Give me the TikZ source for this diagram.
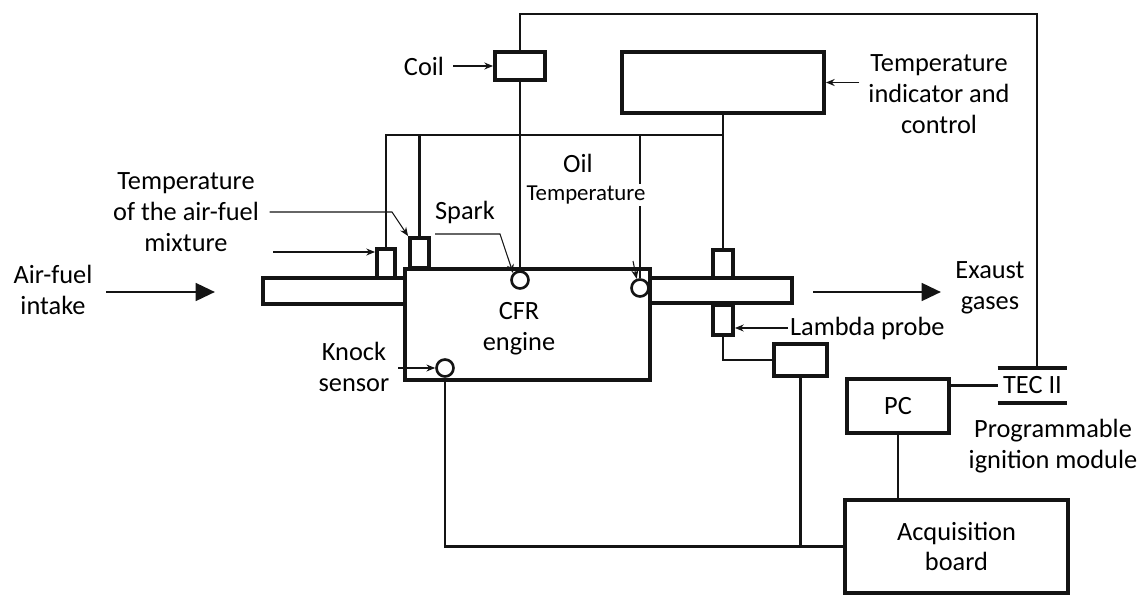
\documentclass[tikz,border=0pt]{standalone}
\usepackage{fontspec}
\setmainfont{Carlito}
\usetikzlibrary{arrows.meta}
\definecolor{rigblack}{RGB}{20,20,20}

\begin{document}
\begin{tikzpicture}[x=0.02cm, y=-0.02cm, rigblack,
    every node/.style={font=\fontsize{15}{17.6}\selectfont, text=black},
    unit/.style={draw, line width=2.2pt, inner sep=0pt, fill=white},
    probe/.style={circle, draw, line width=1.5pt, inner sep=0pt,
                  minimum size=0.34cm, fill=white},
    wire/.style={line width=1.2pt},
    pointer/.style={line width=0.6pt, -{Stealth[length=5pt,width=4pt]}},
    flow/.style={line width=1.7pt, -{Triangle[length=11pt,width=10pt]}},
    lbl/.style={align=center, inner sep=1pt}]
\useasboundingbox (0,0) rectangle (1143,595);
% Engine with intake and exhaust pipes
\node[unit, minimum width=2.84cm, minimum height=0.52cm] (intake) at (334,291) {};
\node[unit, minimum width=2.84cm, minimum height=0.5cm] (exhaust) at (721,290.5) {};
\node[unit, minimum width=0.36cm, minimum height=0.58cm] (sens1) at (386,263.5) {};
\node[unit, minimum width=0.38cm, minimum height=0.6cm] (sens2) at (419.5,253) {};
\node[unit, minimum width=0.4cm, minimum height=0.56cm] (lam1) at (723,264) {};
\node[unit, minimum width=0.4cm, minimum height=0.6cm] (lam2) at (723,320) {};
\node[unit, minimum width=4.9cm, minimum height=2.22cm] (engine) at (527.5,324.5) {};
\node[lbl] (cfr) at (519,329) {CFR\\engine};
\node[probe] (spark) at (520,280) {};
\node[probe] (oil) at (640,288) {};
\node[probe] (knock) at (445,368) {};
% Other units
\node[unit, minimum width=1.0cm, minimum height=0.56cm] (coil) at (520,66) {};
\node[unit, minimum width=4.04cm, minimum height=1.22cm] (tic) at (723,82.5) {};
\node[unit, minimum width=1.06cm, minimum height=0.64cm] (lamunit) at (800.5,360) {};
\node[unit, minimum width=2.04cm, minimum height=1.08cm] (pc) at (898,406) {PC};
\node[unit, minimum width=4.46cm, minimum height=1.86cm, align=center] (acq) at (956.5,546.5) {Acquisition\\board};
\node[minimum width=1.38cm, minimum height=0.7cm, inner sep=0pt] (tec) at (1032.5,385.5) {TEC II};
\draw[line width=2.2pt] (tec.north west) -- (tec.north east);
\draw[line width=2.2pt] (tec.south west) -- (tec.south east);
% Wiring
\coordinate (corner) at (1037,14);
\coordinate (bus) at (387,135);
\draw[wire] (coil.north) |- (corner) -- (corner |- tec.north);
\draw[wire] (coil.south) -- (spark.north);
\draw[wire] (tic.south) -- (lam1.north);
\draw[wire] (sens1.north) |- (tic.south |- bus);
\draw[wire] (sens2.north) -- (sens2.north |- bus);
\draw[wire] (oil.north) -- (oil.north |- bus);
\draw[wire] (lam2.south) |- (lamunit.west);
\draw[wire] (knock.south) |- (acq.west);
\draw[wire] (lamunit.south) -- (lamunit.south |- acq.west);
\draw[wire] (pc.south) -- (pc.south |- acq.north);
\draw[wire] (pc.east |- tec.west) -- (tec.west);
% Labels and pointers
\node[lbl] (coillbl) at (424,66) {Coil};
\draw[pointer, shorten <=4pt] (coillbl.east) -- (coil.west);
\node[lbl] (ticlbl) at (939,94) {Temperature\\indicator and\\control};
\draw[pointer, shorten <=4pt] (ticlbl.west |- tic.east) -- (tic.east);
\node[lbl] (mixlbl) at (186,212) {Temperature\\of the air-fuel\\mixture};
\coordinate (mixbend) at (392,212);
\draw[pointer, shorten <=5pt] (mixlbl.east) -- (mixbend) -- (sens2.north west);
\coordinate (mixfeed) at (273,252);
\draw[pointer] (mixfeed) -- (sens1.west |- mixfeed);
\node[lbl] (sparklbl) at (465,212) {Spark};
\coordinate (sparkfeed) at (435,234);
\coordinate (sparkbend) at (500,234);
\draw[pointer] (sparkfeed) -- (sparkbend) -- (spark.north west);
\node[lbl] (oillbl) at (578,163) {Oil};
\node[fill=white, inner sep=1pt, font=\fontsize{13}{15}\selectfont] (oiltemp) at (586,195) {Temperature};
\coordinate (oilfeed) at (633,261);
\draw[pointer] (oilfeed) -- (oil.110);
\node[lbl] (knocklbl) at (354,367) {Knock\\sensor};
\draw[pointer, shorten <=4pt] (knocklbl.east |- knock.west) -- (knock.west);
\node[lbl, anchor=west] (lamlbl) at (788,328) {Lambda probe};
\draw[pointer] (lamlbl.west) -- (lam2.east |- lamlbl.west);
\node[lbl] (piglbl) at (1053,446) {Programmable\\ignition module};
% Gas flow
\node[lbl] (afi) at (53,290) {Air-fuel\\intake};
\coordinate (afistart) at (106,292);
\coordinate (afiend) at (215,292);
\draw[flow] (afistart) -- (afiend);
\node[lbl] (gas) at (990,288) {Exaust\\gases};
\coordinate (exstart) at (813,292);
\coordinate (exend) at (941,292);
\draw[flow] (exstart) -- (exend);
\end{tikzpicture}
\end{document}
